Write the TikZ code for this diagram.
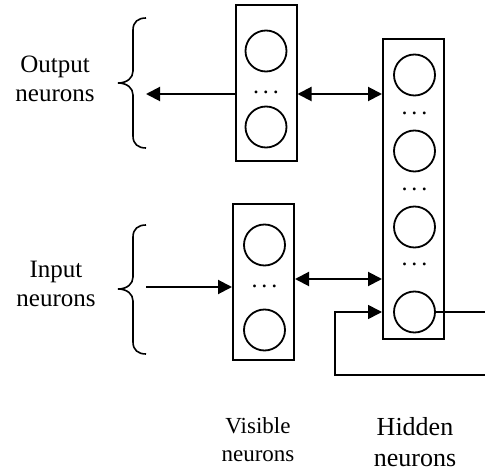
\documentclass[tikz,border=0pt]{standalone}
\usepackage{fontspec}
\setmainfont{Liberation Serif}
\usetikzlibrary{arrows.meta}
\newcommand{\spreaddots}{.\hspace{4pt}.\hspace{4pt}.}
\begin{document}
\begin{tikzpicture}[x=1pt,y=-1pt,
  layerbox/.style={draw,line width=2pt,minimum width=61pt,inner sep=0pt},
  neuron/.style={draw,circle,line width=1.8pt,minimum size=41pt,inner sep=0pt},
  dots/.style={font=\fontsize{24}{24}\selectfont,inner sep=0pt,anchor=base},
  lab/.style={align=center,inner sep=0pt,anchor=base},
  conn/.style={line width=2pt,-{Triangle[length=14pt,width=14pt]}},
  biconn/.style={line width=2pt,{Triangle[length=14pt,width=14pt]}-{Triangle[length=14pt,width=14pt]}},
  fb/.style={line width=1.6pt,-{Triangle[length=14pt,width=14pt]}},
  bracestyle/.style={line width=1.6pt}]
\useasboundingbox (0,0) rectangle (485,473);

% layer boxes
\node[layerbox,minimum height=156pt] (outbox) at (266,83) {};
\node[layerbox,minimum height=156pt] (inbox) at (263.5,282) {};
\node[layerbox,minimum height=300pt] (hidbox) at (413.5,189) {};

% neurons
\node[neuron] (o1) at (266,51) {};
\node[neuron] (o2) at (266,127) {};
\node[dots] (od) at (266,94) {\spreaddots};
\node[neuron] (i1) at (264.5,245) {};
\node[neuron] (i2) at (264.5,330) {};
\node[dots] (idd) at (264.5,288) {\spreaddots};
\node[neuron] (h1) at (414.5,75) {};
\node[neuron] (h2) at (414.5,151) {};
\node[neuron] (h3) at (414.5,227) {};
\node[neuron] (h4) at (414.5,312) {};
\node[dots] (hd1) at (414.5,115) {\spreaddots};
\node[dots] (hd2) at (414.5,191) {\spreaddots};
\node[dots] (hd3) at (414.5,266) {\spreaddots};

% braces
\coordinate (obr) at (146,94);
\coordinate (ibr) at (146,287);
\draw[bracestyle] (146,18) .. controls (138,18) and (133,22) .. (133,30) -- (133,71)
  .. controls (133,78) and (127,83) .. (118,83)
  .. controls (127,83) and (133,88) .. (133,95) -- (133,136)
  .. controls (133,144) and (138,148) .. (146,148);
\draw[bracestyle] (146,225) .. controls (138,225) and (133,229) .. (133,237) -- (133,277)
  .. controls (133,284) and (127,289) .. (118,289)
  .. controls (127,289) and (133,294) .. (133,301) -- (133,342)
  .. controls (133,350) and (138,354) .. (146,354);

% connectors
\draw[conn] (outbox.west |- obr) -- (obr);
\draw[conn] (ibr) -- (inbox.west |- ibr);
\draw[biconn] (outbox.east |- obr) -- (hidbox.west |- obr);
\draw[biconn] (inbox.east |- 0,279) -- (hidbox.west |- 0,279);
\begin{scope}
\clip (0,0) rectangle (485,473);
\draw[fb] (h4.east) -- (492,312) -- (492,375) -- (335,375) -- (335,312) -- (hidbox.west |- h4);
\end{scope}

% labels
\node[lab,font=\fontsize{25}{29}\selectfont] (outlab) at (55,102) {Output\\neurons};
\node[lab,font=\fontsize{25}{29}\selectfont] (inlab) at (56,307) {Input\\neurons};
\node[lab,font=\fontsize{23}{28}\selectfont] (vislab) at (258,461) {Visible\\neurons};
\node[lab,font=\fontsize{26}{31}\selectfont] (hidlab) at (415,466) {Hidden\\neurons};
\end{tikzpicture}
\end{document}
